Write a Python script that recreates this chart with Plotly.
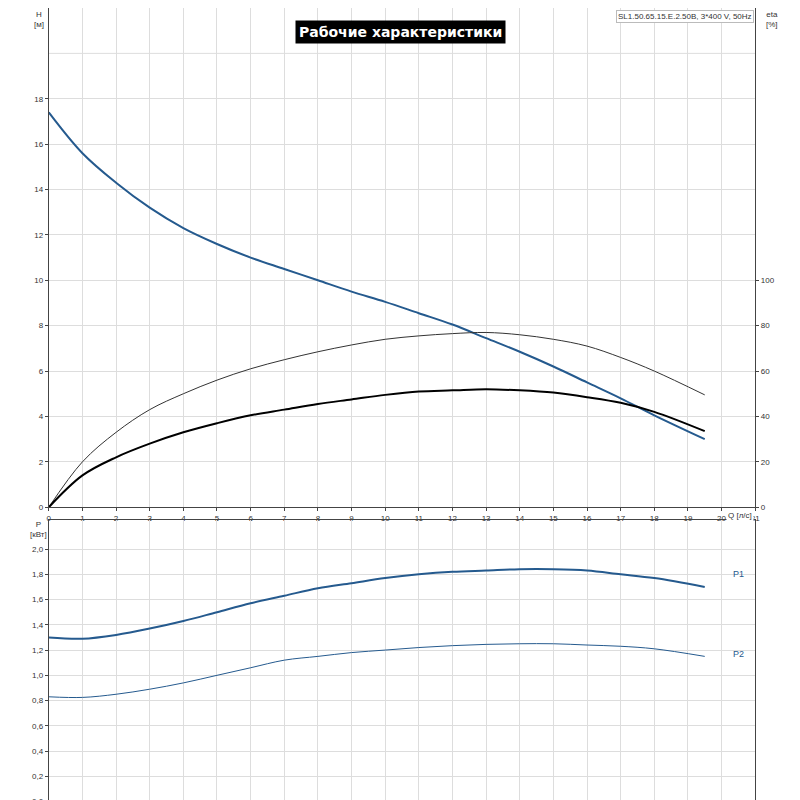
import plotly.graph_objects as go

q = [0, 1, 2, 3, 4, 5, 6, 7, 8, 9, 10, 11, 12, 13, 14, 15, 16, 17, 18, 19.5]
h = [17.4, 15.6, 14.3, 13.2, 12.3, 11.6, 11.0, 10.5, 10.0, 9.5, 9.05, 8.55, 8.05, 7.45, 6.85, 6.2, 5.5, 4.8, 4.05, 3.0]
eta_thin = [0, 20, 33, 43, 50, 56, 61, 65, 68.5, 71.5, 74, 75.5, 76.5, 77, 76, 74, 71, 66, 60, 49.5]
eta_thick = [0, 14, 22, 28, 33, 37, 40.5, 43, 45.5, 47.5, 49.5, 51, 51.5, 52, 51.5, 50.5, 48.5, 46, 42, 33.5]
p1 = [1.30, 1.29, 1.32, 1.37, 1.43, 1.50, 1.57, 1.63, 1.69, 1.73, 1.77, 1.80, 1.82, 1.83, 1.84, 1.84, 1.83, 1.80, 1.77, 1.70]
p2 = [0.83, 0.825, 0.85, 0.89, 0.94, 1.00, 1.06, 1.12, 1.15, 1.18, 1.20, 1.22, 1.235, 1.245, 1.25, 1.25, 1.24, 1.23, 1.21, 1.15]

blue = '#255a8e'
fig = go.Figure()
fig.add_trace(go.Scatter(x=q, y=h, mode='lines', line=dict(color=blue, width=2, shape='spline'), xaxis='x', yaxis='y'))
fig.add_trace(go.Scatter(x=q, y=eta_thin, mode='lines', line=dict(color='#333', width=1, shape='spline'), xaxis='x', yaxis='y2'))
fig.add_trace(go.Scatter(x=q, y=eta_thick, mode='lines', line=dict(color='black', width=2, shape='spline'), xaxis='x', yaxis='y2'))
fig.add_trace(go.Scatter(x=q, y=p1, mode='lines', line=dict(color=blue, width=2, shape='spline'), xaxis='x2', yaxis='y3'))
fig.add_trace(go.Scatter(x=q, y=p2, mode='lines', line=dict(color=blue, width=1, shape='spline'), xaxis='x2', yaxis='y3'))

ax = dict(showline=True, linecolor='#444', mirror=True, gridcolor='#dddddd', zeroline=False, automargin=False,
          tickfont=dict(size=8, color='#333'), ticks='outside', ticklen=3, tickcolor='#444')
dom = [0.051, 0.934]
fig.update_layout(
    width=800, height=800, showlegend=False, plot_bgcolor='white', paper_bgcolor='white',
    margin=dict(l=0, r=0, t=0, b=0, autoexpand=False), font=dict(family='Arial'),
    xaxis=dict(ax, domain=dom, range=[0, 21], dtick=1, anchor='y'),
    yaxis=dict(ax, domain=[0.376, 1], range=[0, 22], tickvals=list(range(0, 20, 2)), anchor='x'),
    yaxis2=dict(ax, overlaying='y', side='right', range=[0, 220], tickvals=[0, 20, 40, 60, 80, 100],
                showgrid=False, anchor='x'),
    xaxis2=dict(ax, domain=dom, range=[0, 21], dtick=1, anchor='y3', showticklabels=False),
    yaxis3=dict(ax, domain=[0.008, 0.36], range=[0, 2.23], tickvals=[i / 5 for i in range(11)],
                ticktext=[f'{i / 5:.1f}'.replace('.', ',') for i in range(11)], anchor='x2'),
)
fig.add_shape(type='line', xref='x', yref='y', x0=0, x1=21, y0=20, y1=20, line=dict(color='#dddddd', width=1), layer='below')

fs = dict(size=8, color='#333')
fig.add_annotation(text='<b>Рабочие характеристики</b>', x=0.49, y=0.985, xref='paper', yref='paper', showarrow=False,
                   bgcolor='black', font=dict(size=14, color='white', family='DejaVu Sans'), borderpad=3)
fig.add_annotation(text='SL1.50.65.15.E.2.50B, 3*400 V, 50Hz', x=0.932, y=0.998, xref='paper', yref='paper',
                   xanchor='right', yanchor='top', showarrow=False, bgcolor='white', bordercolor='#bbb', font=fs)
fig.add_annotation(text='H<br>[м]', x=0.03, y=1.0, xref='paper', yref='paper', yanchor='top', showarrow=False, font=fs)
fig.add_annotation(text='eta<br>[%]', x=0.965, y=1.0, xref='paper', yref='paper', yanchor='top', showarrow=False, font=fs)
fig.add_annotation(text='Q [л/с]', x=0.932, y=0.366, xref='paper', yref='paper', xanchor='right', showarrow=False,
                   bgcolor='white', font=fs)
fig.add_annotation(text='P<br>[кВт]', x=0.025, y=0.362, xref='paper', yref='paper', yanchor='top', showarrow=False, font=fs)
fig.add_annotation(text='P1', x=20.5, y=1.80, xref='x2', yref='y3', showarrow=False, font=dict(size=9, color=blue))
fig.add_annotation(text='P2', x=20.5, y=1.17, xref='x2', yref='y3', showarrow=False, font=dict(size=9, color=blue))

fig.write_html("out.html")
